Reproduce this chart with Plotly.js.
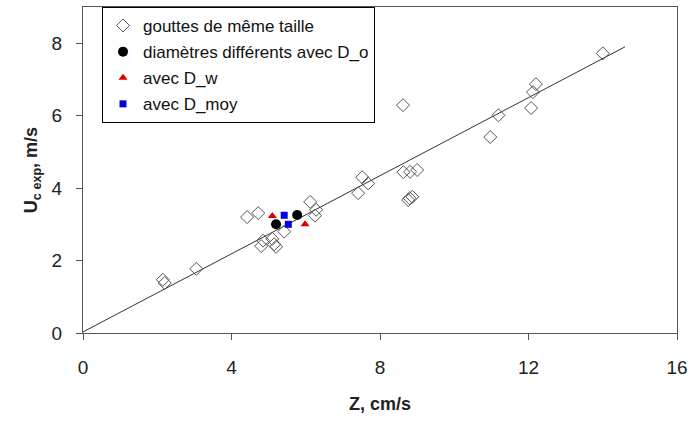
<!DOCTYPE html>
<html>
<head>
<meta charset="utf-8">
<script src="https://cdn.plot.ly/plotly-3.0.1.min.js"></script>
<style>html,body{margin:0;padding:0;background:#fff;}#chart{width:690px;height:431px;}</style>
</head>
<body>
<div id="chart"></div>
<script>
// Open diamonds: gouttes de même taille
const sameX = [2.15, 2.2, 3.05, 4.42, 4.72, 4.85, 4.8, 5.1, 5.15, 5.2, 5.42, 6.12, 6.28, 6.25, 7.41, 7.52, 7.68, 8.62, 8.63, 8.81, 9.0, 8.76, 8.8, 8.87, 10.97, 11.19, 12.07, 12.12, 12.2, 14.0];
const sameY = [1.47, 1.38, 1.77, 3.2, 3.31, 2.55, 2.4, 2.6, 2.45, 2.38, 2.8, 3.62, 3.4, 3.24, 3.86, 4.3, 4.13, 6.29, 4.44, 4.45, 4.5, 3.67, 3.72, 3.76, 5.41, 6.01, 6.21, 6.65, 6.87, 7.72];
// Black circles: diamètres différents avec D_o
const doX = [5.2, 5.77];
const doY = [3.0, 3.26];
// Red triangles: avec D_w
const dwX = [5.1, 5.98];
const dwY = [3.23, 3.0];
// Blue squares: avec D_moy
const dmX = [5.42, 5.53];
const dmY = [3.25, 3.0];
// Fit line
const fitX = [0, 14.6];
const fitY = [0.03, 7.9];

const xTicks = [0, 4, 8, 12, 16];
const yTicks = [0, 2, 4, 6, 8];

const traces = [
  {x: fitX, y: fitY, mode: 'lines', line: {color: '#333', width: 1}, showlegend: false, hoverinfo: 'skip'},
  {x: sameX, y: sameY, mode: 'markers', name: 'gouttes de même taille', legendgroup: 'a',
   marker: {symbol: 'diamond-open', size: 10, color: '#555', line: {width: 1, color: '#555'}}},
  {x: doX, y: doY, mode: 'markers', name: 'diamètres différents avec D_o', legendgroup: 'b',
   marker: {symbol: 'circle', size: 10, color: '#000'}},
  {x: dwX, y: dwY, mode: 'markers', name: 'avec D_w', legendgroup: 'c',
   marker: {symbol: 'triangle-up', size: 8, color: '#e00000'}},
  {x: dmX, y: dmY, mode: 'markers', name: 'avec D_moy', legendgroup: 'd',
   marker: {symbol: 'square', size: 7, color: '#0000e0'}}
];

const layout = {
  width: 690, height: 431,
  margin: {l: 83, r: 13, t: 7, b: 98},
  paper_bgcolor: '#fff', plot_bgcolor: '#fff',
  font: {family: 'Arial, Liberation Sans, sans-serif', color: '#222'},
  showlegend: true,
  legend: {
    x: 0.032, y: 1, xanchor: 'left', yanchor: 'top',
    bordercolor: '#000', borderwidth: 1, bgcolor: '#fff',
    font: {size: 17, color: '#111'}, tracegroupgap: 1, itemwidth: 30
  },
  xaxis: {
    range: [0, 16], tickvals: xTicks, ticktext: xTicks.map(String),
    showgrid: false, zeroline: false, showline: true, mirror: true,
    linecolor: '#555', linewidth: 1, ticks: 'outside', ticklen: 6, tickcolor: '#555',
    tickfont: {size: 19, color: '#222'}, ticklabelstandoff: 11,
    title: {text: '<b>Z, cm/s</b>', font: {size: 18, color: '#222'}, standoff: 20}
  },
  yaxis: {
    range: [0, 9], tickvals: yTicks, ticktext: yTicks.map(String),
    showgrid: false, zeroline: false, showline: true, mirror: true,
    linecolor: '#555', linewidth: 1, ticks: 'outside', ticklen: 6, tickcolor: '#555',
    tickfont: {size: 19, color: '#222'}, ticklabelstandoff: 10,
    title: {text: '<b>U<sub>c exp</sub>, m/s</b>', font: {size: 18, color: '#222'}}
  }
};

Plotly.newPlot('chart', traces, layout, {staticPlot: true, displayModeBar: false});
</script>
</body>
</html>
